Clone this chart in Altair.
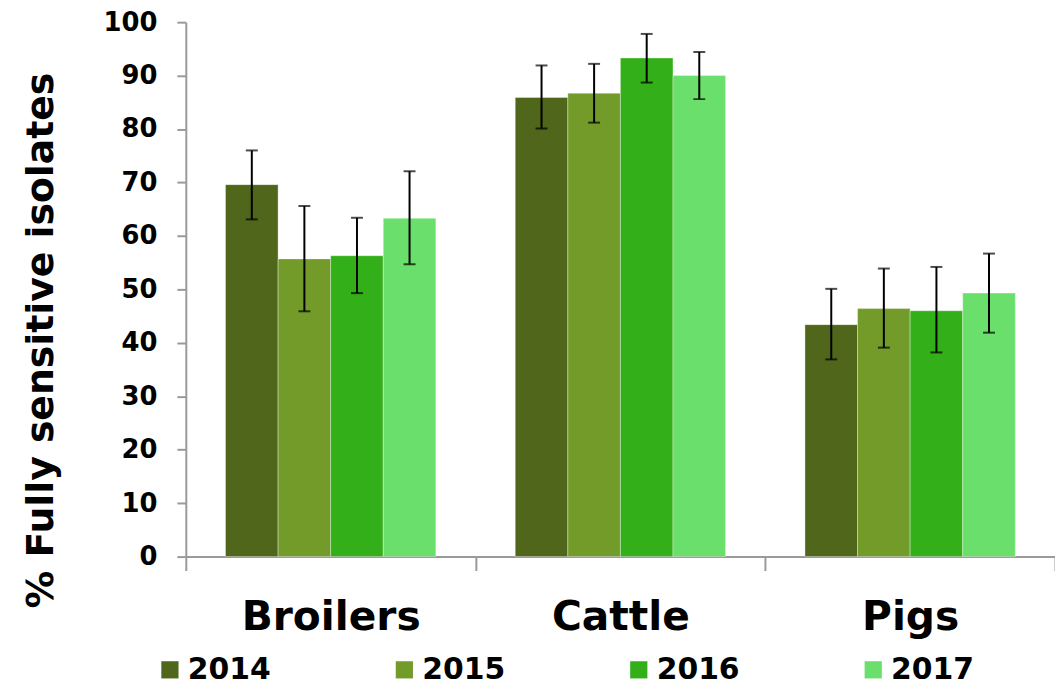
import altair as alt
import pandas as pd

categories = ["Broilers", "Cattle", "Pigs"]
years = ["2014", "2015", "2016", "2017"]
colors = ["#4f661b", "#739b2a", "#33af19", "#6adf6b"]

values = {
    "Broilers": [69.6, 55.7, 56.3, 63.3],
    "Cattle": [85.9, 86.7, 93.3, 90.0],
    "Pigs": [43.4, 46.4, 46.0, 49.3],
}
lower = {
    "Broilers": [63.1, 45.9, 49.3, 54.7],
    "Cattle": [80.1, 81.2, 88.7, 85.6],
    "Pigs": [36.9, 39.1, 38.2, 41.9],
}
upper = {
    "Broilers": [76.0, 65.6, 63.4, 72.1],
    "Cattle": [91.9, 92.2, 97.8, 94.4],
    "Pigs": [50.1, 53.9, 54.2, 56.7],
}

rows = []
for c in categories:
    for i, yr in enumerate(years):
        rows.append({"cat": c, "year": yr, "val": values[c][i],
                     "lo": lower[c][i], "hi": upper[c][i]})
df = pd.DataFrame(rows)

FONT = "DejaVu Sans"
AXIS_GREY = "#9a9a9a"

x_enc = alt.X("cat:N", sort=categories,
              scale=alt.Scale(paddingInner=0, paddingOuter=0),
              axis=alt.Axis(title=None, labelAngle=0, labelFont=FONT,
                            labelFontWeight="bold", labelFontSize=41,
                            labelColor="black", labelPadding=27,
                            labelLimit=0,
                            tickSize=14, tickBand="extent",
                            tickColor=AXIS_GREY, tickWidth=2,
                            domainColor=AXIS_GREY, domainWidth=2))
xoff = alt.XOffset("year:N", sort=years,
                   scale=alt.Scale(paddingInner=0, paddingOuter=0.755))

y_scale = alt.Scale(domain=[0, 100], nice=False)

base = alt.Chart(df)

bars = base.mark_bar(stroke="white", strokeOpacity=0.35, strokeWidth=1).encode(
    x=x_enc,
    xOffset=xoff,
    y=alt.Y("val:Q", scale=y_scale,
            axis=alt.Axis(title="% Fully sensitive isolates",
                          values=list(range(0, 101, 10)),
                          labelFont=FONT, labelFontWeight="bold",
                          labelFontSize=26, labelColor="black",
                          labelPadding=20, tickSize=9,
                          tickColor=AXIS_GREY, tickWidth=2,
                          domainColor=AXIS_GREY, domainWidth=2,
                          grid=False,
                          titleFont=FONT, titleFontWeight="bold",
                          titleFontSize=38, titleColor="black",
                          titleAngle=270, titleAlign="center",
                          titleBaseline="bottom",
                          titleX=-126, titleY=320)),
    color=alt.Color("year:N", sort=years,
                    scale=alt.Scale(domain=years, range=colors),
                    legend=alt.Legend(title=None, orient="none",
                                      direction="horizontal",
                                      legendX=-31, legendY=637,
                                      symbolType="square", symbolSize=300,
                                      symbolStrokeWidth=0,
                                      labelFont=FONT, labelFontWeight="bold",
                                      labelFontSize=30, labelColor="black",
                                      labelOffset=3, columnPadding=119)),
)

err = base.mark_rule(color="black", strokeWidth=2).encode(
    x=alt.X("cat:N", sort=categories),
    xOffset=xoff,
    y=alt.Y("lo:Q", scale=y_scale),
    y2="hi:Q",
)
cap_lo = base.mark_tick(color="black", thickness=2, size=12, orient="horizontal").encode(
    x=alt.X("cat:N", sort=categories),
    xOffset=xoff,
    y=alt.Y("lo:Q", scale=y_scale),
)
cap_hi = base.mark_tick(color="black", thickness=2, size=12, orient="horizontal").encode(
    x=alt.X("cat:N", sort=categories),
    xOffset=xoff,
    y=alt.Y("hi:Q", scale=y_scale),
)

chart = (
    alt.layer(bars, err, cap_lo, cap_hi)
    .properties(
        width=875, height=538,
        autosize="none",
        background="white",
        padding={"left": 179, "top": 12, "right": 0, "bottom": 127},
    )
    .configure_view(strokeWidth=0, stroke="transparent")
    .configure_axis(grid=False)
)

chart.save("out.html", embed_options={"renderer": "svg", "actions": False})
